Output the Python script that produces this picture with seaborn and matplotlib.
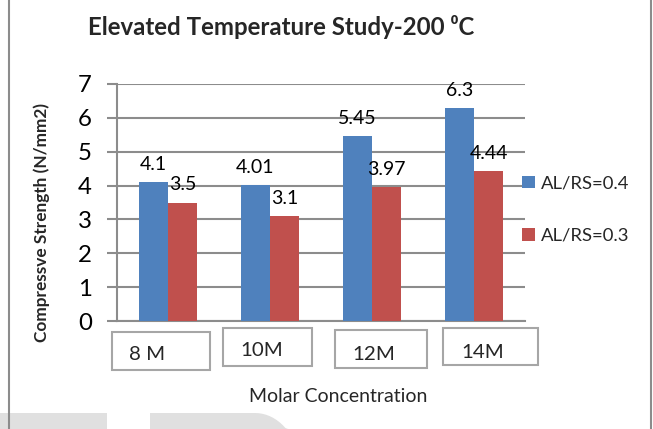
import matplotlib
matplotlib.use("Agg")
import matplotlib.pyplot as plt
import matplotlib.patches as mpatches
import matplotlib.transforms as mtransforms
import numpy as np
import pandas as pd
import seaborn as sns

# ---- data ----
categories = ["8 M", "10M", "12M", "14M"]
series_names = ["AL/RS=0.4", "AL/RS=0.3"]
values_04 = [4.1, 4.01, 5.45, 6.3]
values_03 = [3.5, 3.1, 3.97, 4.44]
yticks = [0, 1, 2, 3, 4, 5, 6, 7]

df = pd.DataFrame({
    "cat": categories * 2,
    "series": [series_names[0]] * 4 + [series_names[1]] * 4,
    "value": values_04 + values_03,
})

sns.set_theme(style="white")
plt.rcParams["font.family"] = ["Lato", "DejaVu Sans"]

W, H = 653, 429
fig = plt.figure(figsize=(W / 100, H / 100), dpi=100)
PT = 0.72  # px -> pt at dpi 100

def fx(px):
    return px / W

def fy(py):
    return 1 - py / H

ax = fig.add_axes([fx(117), fy(321), fx(525) - fx(117), fy(84) - fy(321)])

palette = {series_names[0]: "#4F81BD", series_names[1]: "#C0504D"}
sns.barplot(data=df, x="cat", y="value", hue="series", order=categories,
            hue_order=series_names, palette=palette, width=0.57, ax=ax,
            saturation=1, edgecolor="none", legend=True, zorder=3)

ax.set_ylim(0, 7)
ax.set_xlim(-0.5, len(categories) - 0.5)
ax.set_yticks(yticks)
ax.set_yticklabels([str(t) for t in yticks], fontsize=24 * PT)
ax.yaxis.grid(True, color="#8c8c8c", linewidth=1.5, zorder=0)
ax.xaxis.grid(False)
ax.set_axisbelow(True)
for s in ["top", "right"]:
    ax.spines[s].set_visible(False)
ax.spines["left"].set_color("#8c8c8c")
ax.spines["left"].set_linewidth(1.5)
ax.spines["bottom"].set_color("#8c8c8c")
ax.spines["bottom"].set_linewidth(1.5)
ax.tick_params(axis="y", which="major", left=True, length=10 * PT, width=1.5,
               color="#8c8c8c", pad=15 * PT, labelcolor="black")
ax.set_xticks([])
ax.set_xlabel("")
ax.set_ylabel("")

# data labels
for cont in ax.containers:
    ax.bar_label(cont, labels=[f"{v:g}" for v in cont.datavalues],
                 padding=9 * PT, fontsize=19.5 * PT, color="black")

# legend
handles, labels = ax.get_legend_handles_labels()
ax.legend(handles, labels, loc="center left", bbox_to_anchor=(0.975, 0.47),
          frameon=False, fontsize=18.5 * PT, handlelength=0.68, handleheight=0.68,
          handletextpad=0.35, labelspacing=1.95, borderaxespad=0)

# category label boxes (hand-drawn text boxes in the original)
box_left = [-0.55, -0.46, -0.36, -0.30]
box_right = [0.41, 0.41, 0.54, 0.63]
box_top = [332, 328, 330, 328]
box_bot = [370, 366, 368, 365]
text_dx = [-0.21, -0.08, 0.02, 0.09]
text_y = [355, 351, 354.5, 352]
trans = mtransforms.blended_transform_factory(ax.transData, fig.transFigure)
for i, cat in enumerate(categories):
    rect = mpatches.Rectangle((i + box_left[i], fy(box_bot[i])),
                              box_right[i] - box_left[i],
                              fy(box_top[i]) - fy(box_bot[i]),
                              transform=trans, fill=False,
                              edgecolor="#a6a6a6", linewidth=1.5, clip_on=False)
    fig.add_artist(rect)
    t = fig.text(0, fy(text_y[i]), cat, transform=trans, fontsize=20.5 * PT,
                 ha="center", va="center")
    t.set_x(i + text_dx[i])

# titles
fig.text(fx(88), fy(27), "Elevated Temperature Study-200 \u2070C",
         fontsize=24 * PT, fontweight="bold", ha="left", va="center")
fig.text(fx(42), fy(222), "Compressve Strength (N/mm2)", rotation=90,
         fontsize=17.3 * PT, fontweight="bold", ha="center", va="center")
fig.text(fx(338), fy(397), "Molar Concentration", fontsize=19.5 * PT,
         ha="center", va="center")

# watermark shapes at bottom
wm = "#e0e0e0"
fig.add_artist(mpatches.Rectangle((0, 0), fx(107), fy(413), transform=fig.transFigure,
                                  facecolor=wm, edgecolor="none", zorder=-5))
ang = np.linspace(np.pi / 2, 0, 20)
cx, cy = 255, 470
pts = [(150, 429), (150, 413)] + [(cx + 45 * np.cos(a), cy - 57 * np.sin(a)) for a in ang]
pts = [(fx(p[0]), fy(min(p[1], 429))) for p in pts]
fig.add_artist(mpatches.Polygon(pts, closed=True, transform=fig.transFigure,
                                facecolor=wm, edgecolor="none", zorder=-5))

# outer chart frame
fig.add_artist(mpatches.Rectangle((fx(8.5), -0.01), fx(650.5) - fx(8.5), 1.02,
                                  transform=fig.transFigure, fill=False,
                                  edgecolor="#8c8c8c", linewidth=1.5))

fig.savefig("out.png", dpi=100)
